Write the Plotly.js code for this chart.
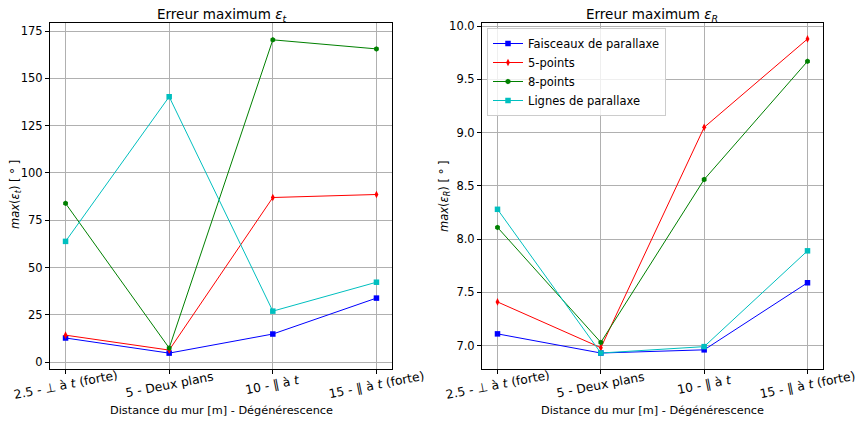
<!DOCTYPE html>
<html><head><meta charset="utf-8">
<script src="https://cdn.plot.ly/plotly-3.0.1.min.js"></script>
<style>body{margin:0;padding:0;background:#fff}#c{width:855px;height:422px}</style>
</head><body><div id="c"></div>
<script>
const categories = ["2.5 - ⊥ à <i>t</i> (forte)", "5 - Deux plans", "10 - ∥ à <i>t</i>", "15 - ∥ à <i>t</i> (forte)"];
const seriesNames = ["Faisceaux de parallaxe", "5-points", "8-points", "Lignes de parallaxe"];
// Erreur maximum eps_t
const tFaisceaux = [12.7, 4.7, 14.8, 33.8];
const t5points = [14.2, 6.3, 87.0, 88.6];
const t8points = [83.9, 7.4, 170.4, 165.6];
const tLignes = [63.8, 140.3, 26.9, 42.2];
// Erreur maximum eps_R
const rFaisceaux = [7.11, 6.93, 6.96, 7.59];
const r5points = [7.41, 6.98, 9.05, 9.88];
const r8points = [8.11, 7.03, 8.56, 9.67];
const rLignes = [8.28, 6.93, 6.99, 7.89];

const colors = ["#0000ff", "#ff0000", "#008000", "#00bfbf"];
const symbols = ["square", "diamond-tall", "hexagon", "square"];
const xs = [0, 1, 2, 3];

const tData = [tFaisceaux, t5points, t8points, tLignes];
const rData = [rFaisceaux, r5points, r8points, rLignes];
const traces = [];
tData.forEach((d, i) => traces.push({x: xs, y: d, type: 'scatter', mode: 'lines+markers', name: seriesNames[i],
  line: {color: colors[i], width: 1}, marker: {color: colors[i], symbol: symbols[i], size: 5.5},
  xaxis: 'x', yaxis: 'y', showlegend: false}));
rData.forEach((d, i) => traces.push({x: xs, y: d, type: 'scatter', mode: 'lines+markers', name: seriesNames[i],
  line: {color: colors[i], width: 1}, marker: {color: colors[i], symbol: symbols[i], size: 5.5},
  xaxis: 'x2', yaxis: 'y2', showlegend: true}));

const font = {family: 'DejaVu Sans', size: 11, color: '#000'};
const axBase = {showline: true, linecolor: '#000', linewidth: 1, mirror: true, ticks: 'outside', ticklen: 4,
  tickcolor: '#000', showgrid: true, gridcolor: '#b0b0b0', gridwidth: 1, zeroline: false, tickfont: {family: 'DejaVu Sans', size: 11.5, color: '#000'}};
const xBase = Object.assign({}, axBase, {tickmode: 'array', tickvals: xs, ticktext: categories, range: [-0.15, 3.15],
  showticklabels: false});

const f = s => ({family: 'DejaVu Sans', size: s, color: '#000'});
const annotations = [
  {text: 'Erreur maximum <i>ε<sub>t</sub></i>', x: 221/855, y: 1-15/422, xref: 'paper', yref: 'paper', xanchor: 'center', yanchor: 'middle',
    showarrow: false, font: f(13.5)},
  {text: 'Erreur maximum <i>ε<sub>R</sub></i>', x: 652/855, y: 1-15/422, xref: 'paper', yref: 'paper', xanchor: 'center', yanchor: 'middle',
    showarrow: false, font: f(13.5)},
  {text: 'Distance du mur [m] - Dégénérescence', x: 221/855, y: 1-410/422, xref: 'paper', yref: 'paper', xanchor: 'center', yanchor: 'middle',
    showarrow: false, font: f(11.3)},
  {text: 'Distance du mur [m] - Dégénérescence', x: 652/855, y: 1-410/422, xref: 'paper', yref: 'paper', xanchor: 'center', yanchor: 'middle',
    showarrow: false, font: f(11.3)},
  {text: '<i>max</i>(<i>ε<sub>t</sub></i>) [ ° ]', x: 15/855, y: 1-195/422, xref: 'paper', yref: 'paper', xanchor: 'center', yanchor: 'middle',
    textangle: -90, showarrow: false, font: f(11.5)},
  {text: '<i>max</i>(<i>ε<sub>R</sub></i>) [ ° ]', x: 444/855, y: 1-196/422, xref: 'paper', yref: 'paper', xanchor: 'center', yanchor: 'middle',
    textangle: -90, showarrow: false, font: f(11.5)}
];
['x', 'x2'].forEach(ax => categories.forEach((c, i) => annotations.push({
  text: c, x: xs[i], xref: ax, y: 1-385/422, yref: 'paper', xanchor: 'center', yanchor: 'middle', textangle: -11,
  showarrow: false, font: f(12.3)})));

const layout = {
  width: 855, height: 422, paper_bgcolor: '#fff', plot_bgcolor: '#fff', font: font,
  margin: {l: 0, r: 0, t: 0, b: 0},
  xaxis: Object.assign({}, xBase, {domain: [50/855, 392/855], anchor: 'y'}),
  yaxis: Object.assign({}, axBase, {domain: [1-369/422, 1-23/422], range: [-3.7, 179.3], tickvals: [0,25,50,75,100,125,150,175],
    anchor: 'x'}),
  xaxis2: Object.assign({}, xBase, {domain: [482/855, 823/855], anchor: 'y2'}),
  yaxis2: Object.assign({}, axBase, {domain: [1-369/422, 1-23/422], range: [6.78, 10.03], tickvals: [7.0,7.5,8.0,8.5,9.0,9.5,10.0],
    tickformat: '.1f', anchor: 'x2'}),
  legend: {x: 487/855, y: 1-28/422, xanchor: 'left', yanchor: 'top', bgcolor: 'rgba(255,255,255,0.8)',
    bordercolor: '#cccccc', borderwidth: 1, font: f(11.5), tracegroupgap: 0, itemwidth: 30},
  annotations: annotations
};
Plotly.newPlot('c', traces, layout, {displayModeBar: false, staticPlot: true});
</script></body></html>
